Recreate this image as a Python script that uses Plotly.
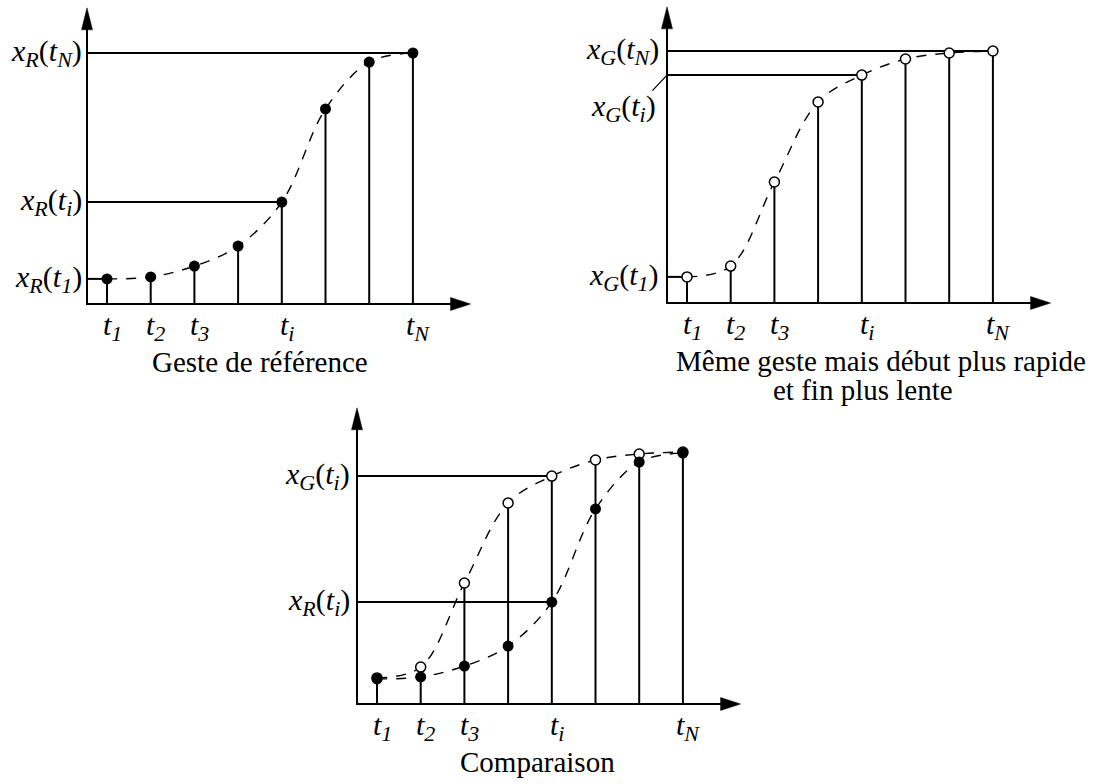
import plotly.graph_objects as go

W, H = 1095, 784
FONT = "Liberation Serif"

TICK_SIZE = 30
TICK_SUB = 22
LABEL_SIZE = 30
LABEL_SUB = 22
CAPTION_SIZE = 29


def it(s):
    return "<i>" + s + "</i>"


def sub(s, size):
    return "<sub><span style='font-size:%dpx'><i>%s</i></span></sub>" % (size, s)


def tlab(k, size):
    return it("t") + sub(k, size)


def xlab(series, k):
    return (it("x") + sub(series, LABEL_SUB) + "(" + it("t") + sub(k, LABEL_SUB) + ")")


# sample instants along the time axis
T_INDEX = [1, 2, 3, 4, 5, 6, 7, 8]
# instants that carry a label under the time axis
T_TICK_INDEX = [1, 2, 3, 5, 8]
T_TICK_SUBS = ["1", "2", "3", "i", "N"]
# reference gesture x_R(t)
X_R = [10.0, 10.8, 15.1, 23.1, 40.6, 77.7, 96.4, 100.0]
# same gesture with a faster start and a slower end, x_G(t)
X_G = [10.4, 14.7, 48.2, 80.1, 90.8, 97.2, 99.6, 100.4]

I_1, I_I, I_N = 0, 4, 7   # positions of t1, ti, tN in the arrays

# drawing scale: pixels per sample step and per value unit
DX = 43.7
SY = 2.51
X0 = 1 - 20 / DX          # origin of the time axis, just left of t1
X_TIP = 9.32              # end of the time axis arrow
Y_TOP = 118.0             # end of the value axis arrow

LW = 2
DASH = "10px,9px"

fig = go.Figure()
annotations = []


def axis_names(k):
    s = "" if k == 1 else str(k)
    return "x" + s, "y" + s, "xaxis" + s, "yaxis" + s


def setup_panel(k, t1_px, oy, box):
    xr, yr, xkey, ykey = axis_names(k)
    bx0, by0, bx1, by1 = box
    fig.layout[xkey] = dict(
        domain=[bx0 / W, bx1 / W],
        range=[1 + (bx0 - t1_px) / DX, 1 + (bx1 - t1_px) / DX],
        visible=False, fixedrange=True, anchor=yr,
    )
    fig.layout[ykey] = dict(
        domain=[1 - by1 / H, 1 - by0 / H],
        range=[(oy - by1) / SY, (oy - by0) / SY],
        visible=False, fixedrange=True, anchor=xr,
    )
    # axis lines
    fig.add_trace(go.Scatter(
        x=[X0, X0, X_TIP - 12 / DX], y=[Y_TOP - 14 / SY, 0, 0],
        mode="lines", line=dict(color="black", width=LW),
        xaxis=xr, yaxis=yr, hoverinfo="skip", cliponaxis=False,
    ))
    # arrowheads: value axis (22 px long, 11 px wide), time axis (20 x 13 px)
    ah_y = [X0 - 5.5 / DX, X0, X0 + 5.5 / DX, X0 - 5.5 / DX]
    av_y = [Y_TOP - 22 / SY, Y_TOP, Y_TOP - 22 / SY, Y_TOP - 22 / SY]
    ah_x = [X_TIP - 20 / DX, X_TIP, X_TIP - 20 / DX, X_TIP - 20 / DX]
    av_x = [-6.5 / SY, 0, 6.5 / SY, -6.5 / SY]
    for hx, vy in ((ah_y, av_y), (ah_x, av_x)):
        fig.add_trace(go.Scatter(
            x=hx, y=vy, mode="lines", fill="toself", fillcolor="black",
            line=dict(color="black", width=0.5),
            xaxis=xr, yaxis=yr, hoverinfo="skip", cliponaxis=False,
        ))
    for idx, s in zip(T_TICK_INDEX, T_TICK_SUBS):
        annotations.append(dict(
            x=idx, y=0, xref=xr, yref=yr, text=tlab(s, TICK_SUB),
            showarrow=False, xanchor="center", yanchor="top",
            xshift=5, yshift=-2,
            font=dict(family=FONT, size=TICK_SIZE, color="black"),
        ))
    return xr, yr


def stems(xr, yr, values):
    xs, ys = [], []
    for i, v in zip(T_INDEX, values):
        xs += [i, i, None]
        ys += [0, v, None]
    fig.add_trace(go.Scatter(
        x=xs, y=ys, mode="lines", line=dict(color="black", width=LW),
        xaxis=xr, yaxis=yr, hoverinfo="skip", cliponaxis=False,
    ))


def guides(xr, yr, positions, values):
    xs, ys = [], []
    for p in positions:
        xs += [X0, T_INDEX[p], None]
        ys += [values[p], values[p], None]
    fig.add_trace(go.Scatter(
        x=xs, y=ys, mode="lines", line=dict(color="black", width=LW),
        xaxis=xr, yaxis=yr, hoverinfo="skip", cliponaxis=False,
    ))


def curve(xr, yr, values):
    fig.add_trace(go.Scatter(
        x=T_INDEX, y=values, mode="lines",
        line=dict(color="black", width=1.4, dash=DASH, shape="spline"),
        xaxis=xr, yaxis=yr, hoverinfo="skip", cliponaxis=False,
    ))


def dots(xr, yr, values, filled):
    if filled:
        marker = dict(size=11, color="black", line=dict(width=0))
    else:
        marker = dict(size=10, color="white", line=dict(width=1.5, color="black"))
    fig.add_trace(go.Scatter(
        x=T_INDEX, y=values, mode="markers", marker=marker,
        xaxis=xr, yaxis=yr, hoverinfo="skip", cliponaxis=False,
    ))


def y_label(xr, yr, value, text, xshift=-3, yshift=0):
    annotations.append(dict(
        x=X0, y=value, xref=xr, yref=yr, text=text, showarrow=False,
        xanchor="right", yanchor="middle", xshift=xshift, yshift=yshift,
        font=dict(family=FONT, size=LABEL_SIZE, color="black"),
    ))


def caption(xr, yr, xpos, text, yshift):
    annotations.append(dict(
        x=xpos, y=0, xref=xr, yref=yr, text=text, showarrow=False,
        xanchor="center", yanchor="top", yshift=yshift,
        font=dict(family=FONT, size=CAPTION_SIZE, color="black"),
    ))


# --- Geste de référence -------------------------------------------------
xr, yr = setup_panel(1, 107, 304, (40, 0, 490, 325))
stems(xr, yr, X_R)
guides(xr, yr, [I_N, I_I, I_1], X_R)
curve(xr, yr, X_R)
dots(xr, yr, X_R, True)
y_label(xr, yr, X_R[I_N], xlab("R", "N"))
y_label(xr, yr, X_R[I_I], xlab("R", "i"))
y_label(xr, yr, X_R[I_1], xlab("R", "1"))
caption(xr, yr, 4.51, "Geste de référence", -40)

# --- Même geste, début plus rapide et fin plus lente ---------------------
xr, yr = setup_panel(2, 687, 303, (630, 0, 1080, 325))
stems(xr, yr, X_G)
guides(xr, yr, [I_N, I_I, I_1], X_G)
curve(xr, yr, X_G)
dots(xr, yr, X_G, False)
y_label(xr, yr, X_G[I_N], xlab("G", "N"), xshift=-6)
y_label(xr, yr, X_G[I_I], xlab("G", "i"), xshift=-9, yshift=-33)
y_label(xr, yr, X_G[I_1], xlab("G", "1"), xshift=-6)
annotations.append(dict(
    x=X0, y=X_G[I_I], xref=xr, yref=yr, text="", showarrow=True,
    arrowhead=0, arrowwidth=1.2, arrowcolor="black", ax=-16, ay=17,
))
caption(xr, yr, 5.45, "Même geste mais début plus rapide", -40)
caption(xr, yr, 5.02, "et fin plus lente", -69)

# --- Comparaison ----------------------------------------------------------
xr, yr = setup_panel(3, 377, 704, (320, 400, 770, 725))
stems(xr, yr, [max(a, b) for a, b in zip(X_R, X_G)])
guides(xr, yr, [I_I], X_G)
guides(xr, yr, [I_I], X_R)
curve(xr, yr, X_G)
curve(xr, yr, X_R)
dots(xr, yr, X_G, False)
dots(xr, yr, X_R, True)
y_label(xr, yr, X_G[I_I], xlab("G", "i"), xshift=-5)
y_label(xr, yr, X_R[I_I], xlab("R", "i"), xshift=-5)
caption(xr, yr, 4.68, "Comparaison", -40)

fig.update_layout(
    width=W, height=H,
    margin=dict(l=0, r=0, t=0, b=0),
    paper_bgcolor="white", plot_bgcolor="rgba(0,0,0,0)",
    showlegend=False,
    annotations=annotations,
    font=dict(family=FONT, color="black"),
)

fig.write_html("out.html", config={"displayModeBar": False})
